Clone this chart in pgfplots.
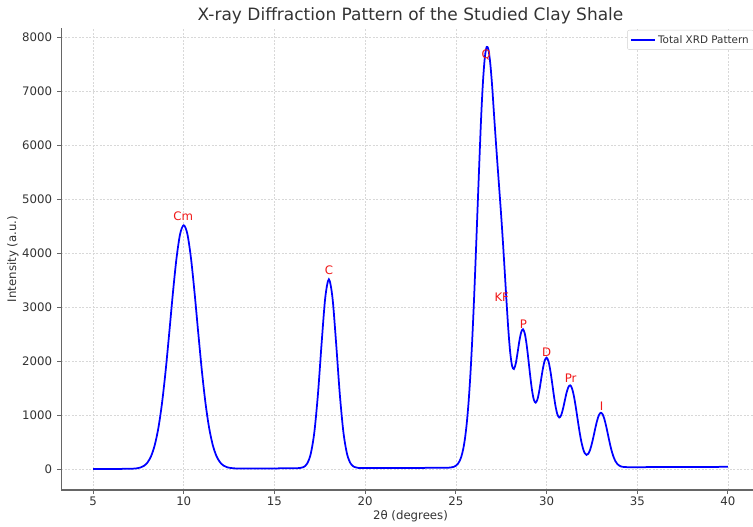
\documentclass[border=0pt]{standalone}
\usepackage{fontspec}
\setmainfont{DejaVu Sans}
\usepackage{pgfplots}
\pgfplotsset{compat=1.18}

\definecolor{spine}{HTML}{666666}
\definecolor{txt}{HTML}{333333}
\definecolor{gridc}{HTML}{D8D8D8}
\definecolor{peakred}{HTML}{F01818}

\begin{document}
\begin{tikzpicture}
\begin{axis}[
  scale only axis,
  width=698.4pt, height=462pt,
  xmin=3.25, xmax=41.75,
  ymin=-389, ymax=8171,
  xtick={5,10,...,40},
  ytick={0,1000,...,8000},
  axis x line*=bottom, axis y line*=left,
  axis line style={-, spine, line width=1.2pt},
  tick align=outside,
  major tick length=4pt,
  tick style={spine, line width=1pt},
  grid=major,
  grid style={gridc, line width=0.7pt, dash pattern=on 2pt off 1.5pt},
  tick label style={font=\fontsize{11.75}{13}\selectfont, text=txt},
  /pgf/number format/assume math mode=true,
  /pgf/number format/set thousands separator={},
  xticklabel style={anchor=base, inner sep=0pt, yshift=-12pt},
  yticklabel style={anchor=east, inner sep=0pt, xshift=-5pt},
  title={X-ray Diffraction Pattern of the Studied Clay Shale},
  every axis title/.style={at={(axis description cs:0.5,1)}, anchor=base,
    yshift=7.5pt, inner sep=0pt, font=\fontsize{17}{19}\selectfont, text=txt},
  xlabel={2θ (degrees)},
  every axis x label/.style={at={(axis description cs:0.5,0)}, anchor=base,
    yshift=-29.5pt, inner sep=0pt, font=\fontsize{11.75}{13}\selectfont, text=txt},
  ylabel={Intensity (a.u.)},
  every axis y label/.style={at={(axis description cs:0,0.5)}, rotate=90,
    anchor=center, yshift=48.3pt, inner sep=0pt, font=\fontsize{11.75}{13}\selectfont, text=txt},
  legend style={at={(rel axis cs:1,1)}, anchor=north east, xshift=-5.7pt, yshift=-2pt,
    font=\fontsize{10.4}{12}\selectfont, text=txt, draw=gray!35, rounded corners=2pt,
    fill=white, inner sep=3pt},
  legend cell align=left,
  legend image code/.code={\draw[#1, line width=1.75pt] (0pt,0pt) -- (24pt,0pt);},
  clip=false,
]
\addplot[blue, line width=1.75pt, smooth] coordinates {
(5,0) (6,1.1) (7,3.5) (7.2,6) (7.4,12) (7.6,26) (7.8,57) (8,120) (8.2,238) (8.4,440)
(8.6,757) (8.8,1215) (9,1815) (9.2,2519) (9.4,3252) (9.6,3902) (9.8,4354) (10,4516)
(10.2,4354) (10.4,3903) (10.6,3253) (10.8,2521) (11,1817) (11.2,1218) (11.4,760)
(11.6,444) (11.8,242) (12,125) (12.2,62) (12.4,31) (12.6,18) (12.8,12) (13,10)
(14,10.3) (15,11.4) (16,12.6) (16.2,14) (16.4,18) (16.6,35) (16.8,99) (17,279)
(17.2,684) (17.4,1395) (17.6,2329) (17.8,3171) (18,3515) (18.2,3171) (18.4,2330)
(18.6,1397) (18.8,686) (19,281) (19.2,101) (19.4,39) (19.6,21) (19.8,18) (20,17.1)
(22,19.4) (24,21.7) (24.4,22.2) (24.6,24) (24.7,28) (24.8,33) (24.9,42) (25,60)
(25.1,90) (25.2,143) (25.3,228) (25.4,360) (25.5,558) (25.6,842) (25.7,1231)
(25.8,1739) (25.9,2373) (26,3123) (26.1,3966) (26.2,4856) (26.3,5732) (26.4,6558)
(26.5,7200) (26.6,7633) (26.7,7820) (26.8,7768) (26.9,7505) (27,7099) (27.1,6590)
(27.2,6097) (27.3,5621) (27.4,5159) (27.5,4688) (27.6,4179) (27.7,3629) (27.8,3066)
(27.9,2551) (28,2149) (28.1,1910) (28.2,1853) (28.3,1950) (28.4,2149) (28.5,2368)
(28.6,2533) (28.7,2589) (28.8,2510) (28.9,2308) (29,2026) (29.1,1722) (29.2,1458)
(29.3,1284) (29.4,1229) (29.5,1292) (29.6,1450) (29.7,1659) (29.8,1864) (29.9,2011)
(30,2062) (30.1,2002) (30.2,1841) (30.3,1615) (30.4,1370) (30.5,1155) (30.6,1010)
(30.7,954) (30.8,993) (30.9,1106) (31,1258) (31.1,1409) (31.2,1515) (31.3,1550)
(31.4,1498) (31.5,1365) (31.6,1172) (31.7,950) (31.8,729) (31.9,536) (32,390)
(32.1,296) (32.2,261) (32.3,282) (32.4,355) (32.5,473) (32.6,619) (32.7,775)
(32.8,912) (32.9,1008) (33,1042) (33.1,1008) (33.2,911) (33.3,772) (33.4,613)
(33.5,458) (33.6,323) (33.7,218) (33.8,143) (33.9,94) (34,65) (34.1,48) (34.2,40)
(34.3,37) (34.4,35) (35,34.3) (40,40)
};
\addlegendentry{Total XRD Pattern}
% peak labels
\begin{scope}[every node/.style={anchor=base, inner sep=0pt, text=peakred,
    font=\fontsize{11.75}{13}\selectfont}]
\node at (axis cs:9.97,4598) {Cm};
\node at (axis cs:18,3605) {C};
\node at (axis cs:26.67,7605) {Q};
\node at (axis cs:27.53,3098) {KF};
\node at (axis cs:28.72,2605) {P};
\node at (axis cs:30.01,2093) {D};
\node at (axis cs:31.33,1599) {Pr};
\node at (axis cs:33.04,1093) {I};
\end{scope}
\end{axis}
\pgfresetboundingbox
\path (-61.3pt,-37pt) rectangle (691.7pt,490pt);
\end{tikzpicture}
\end{document}
